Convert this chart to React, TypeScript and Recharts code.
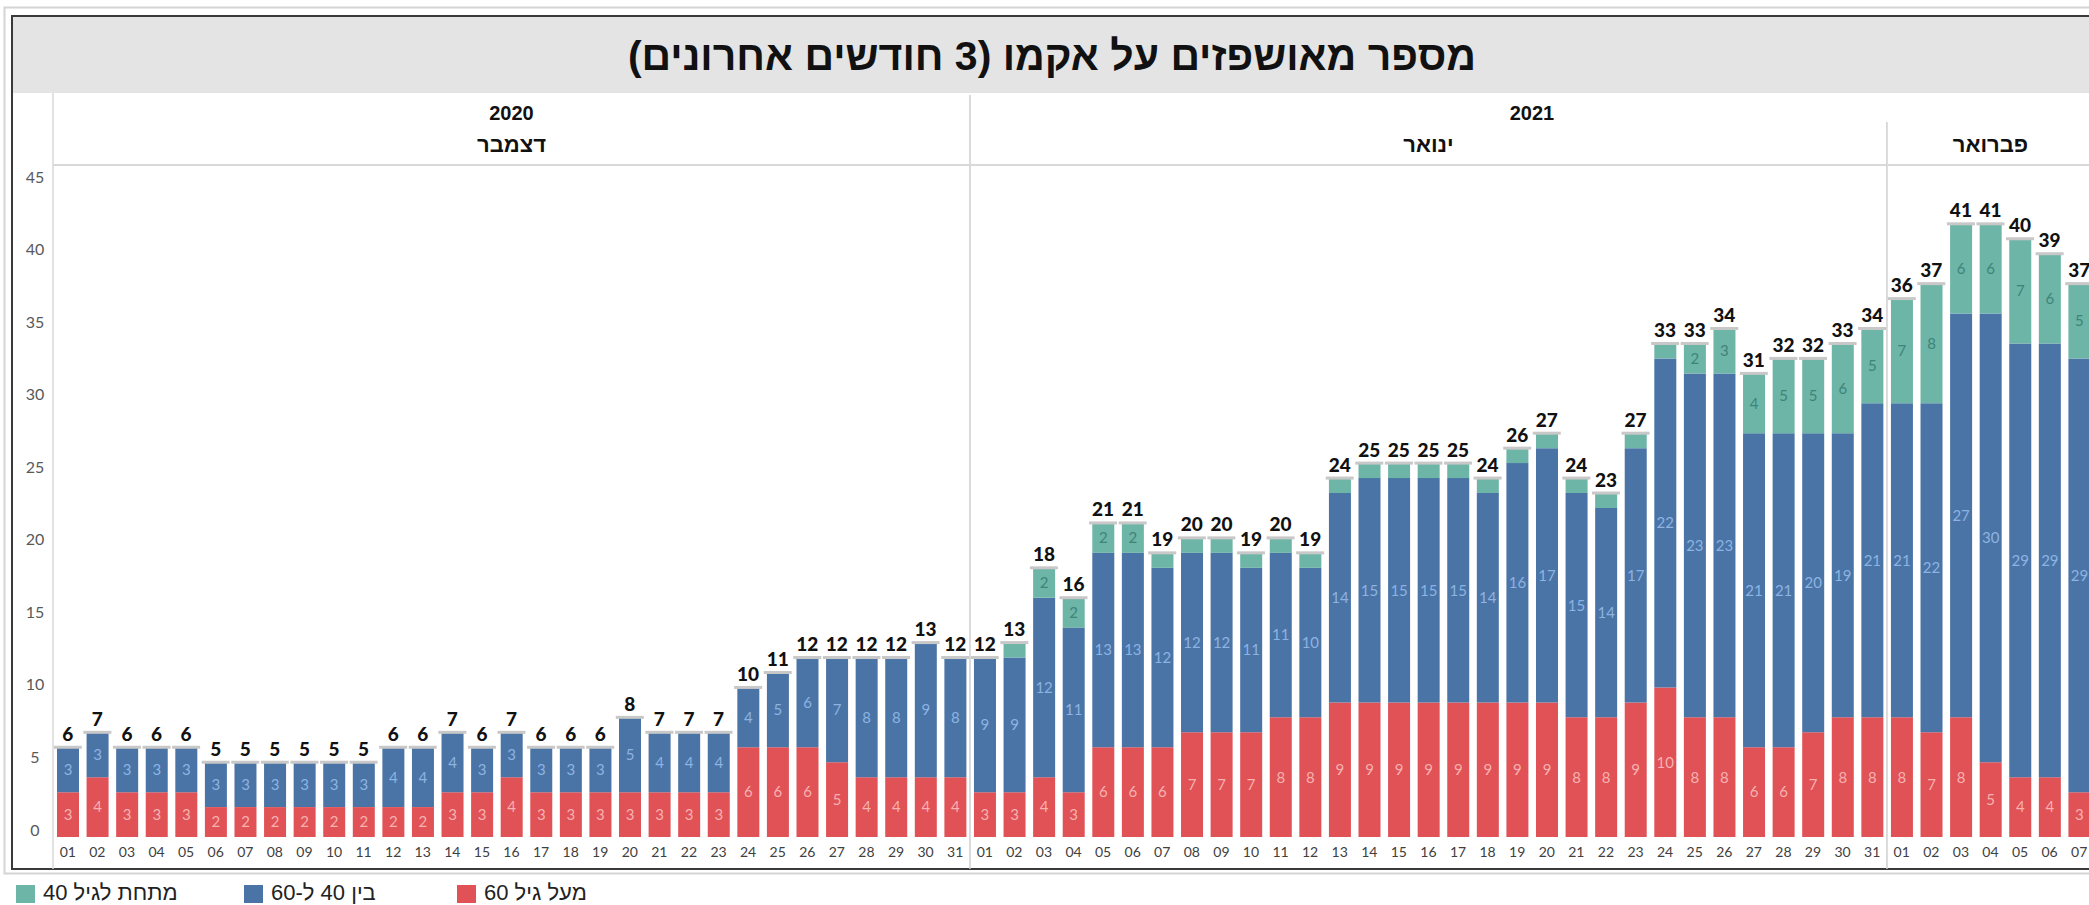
import React from 'react';
import { ComposedChart, Bar, Line, XAxis, YAxis, LabelList } from 'recharts';

// day labels per month (Dec 2020, Jan 2021, first week of Feb 2021)
const decDays = ['01', '02', '03', '04', '05', '06', '07', '08', '09', '10', '11', '12', '13', '14', '15', '16', '17', '18', '19', '20', '21', '22', '23', '24', '25', '26', '27', '28', '29', '30', '31'];
const janDays = ['01', '02', '03', '04', '05', '06', '07', '08', '09', '10', '11', '12', '13', '14', '15', '16', '17', '18', '19', '20', '21', '22', '23', '24', '25', '26', '27', '28', '29', '30', '31'];
const febDays = ['01', '02', '03', '04', '05', '06', '07'];

// מעל גיל 60
const over60 = [
  3, 4, 3, 3, 3, 2, 2, 2, 2, 2, 2, 2, 2, 3, 3, 4, 3, 3, 3, 3, 3, 3, 3, 6, 6, 6, 5, 4, 4, 4, 4,
  3, 3, 4, 3, 6, 6, 6, 7, 7, 7, 8, 8, 9, 9, 9, 9, 9, 9, 9, 9, 8, 8, 9, 10, 8, 8, 6, 6, 7, 8, 8,
  8, 7, 8, 5, 4, 4, 3,
];
// בין 40 ל-60
const age40to60 = [
  3, 3, 3, 3, 3, 3, 3, 3, 3, 3, 3, 4, 4, 4, 3, 3, 3, 3, 3, 5, 4, 4, 4, 4, 5, 6, 7, 8, 8, 9, 8,
  9, 9, 12, 11, 13, 13, 12, 12, 12, 11, 11, 10, 14, 15, 15, 15, 15, 14, 16, 17, 15, 14, 17, 22, 23, 23, 21, 21, 20, 19, 21,
  21, 22, 27, 30, 29, 29, 29,
];
// מתחת לגיל 40
const under40 = [
  0, 0, 0, 0, 0, 0, 0, 0, 0, 0, 0, 0, 0, 0, 0, 0, 0, 0, 0, 0, 0, 0, 0, 0, 0, 0, 0, 0, 0, 0, 0,
  0, 1, 2, 2, 2, 2, 1, 1, 1, 1, 1, 1, 1, 1, 1, 1, 1, 1, 1, 1, 1, 1, 1, 1, 2, 3, 4, 5, 5, 6, 5,
  7, 8, 6, 6, 7, 6, 5,
];

const yTicks = [0, 5, 10, 15, 20, 25, 30, 35, 40, 45];

const RED = '#e05256';
const BLUE = '#4a74a6';
const TEAL = '#6cb5a7';

const PLOT_LEFT = 53;
const PLOT_RIGHT = 2094;
const PLOT_TOP = 164;
const PLOT_BOTTOM = 837;

const days = [
  ...decDays.map(d => ({ key: `2020-12-${d}`, day: d })),
  ...janDays.map(d => ({ key: `2021-01-${d}`, day: d })),
  ...febDays.map(d => ({ key: `2021-02-${d}`, day: d })),
];

const data = days.map((d, i) => ({
  key: d.key,
  day: d.day,
  over60: over60[i],
  mid: age40to60[i],
  under40: under40[i],
  total: over60[i] + age40to60[i] + under40[i],
}));

const BAND = (PLOT_RIGHT - PLOT_LEFT) / data.length;
const janStart = PLOT_LEFT + decDays.length * BAND;
const febStart = PLOT_LEFT + (decDays.length + janDays.length) * BAND;

const numFont = 'Lato, "Liberation Sans", sans-serif';
const hebFont = '"Liberation Sans", "DejaVu Sans", sans-serif';

function TotalLabel(props: any) {
  const { x, y, value } = props;
  if (x == null || y == null) return null;
  return (
    <g>
      <rect x={x - 14} y={y - 1.5} width={28} height={3} fill="#c8c8c8" />
      <text x={x} y={y - 14} textAnchor="middle" dominantBaseline="central"
        fontFamily={numFont} fontWeight={900} fontSize={19} fill="#111">
        {value}
      </text>
    </g>
  );
}

function DayTick(props: any) {
  const { x, y, payload } = props;
  const d = data.find(r => r.key === payload.value);
  return (
    <text x={x} y={y + 6} textAnchor="middle" dominantBaseline="central"
      fontFamily={numFont} fontSize={14} fill="#404040">
      {d ? d.day : ''}
    </text>
  );
}

function ValueTick(props: any) {
  const { y, payload } = props;
  const v = payload.value as number;
  const dy = -8 + v * (20 / 45);
  return (
    <text x={35} y={y + dy} textAnchor="middle" dominantBaseline="central"
      fontFamily={numFont} fontSize={16} fill="#595959">
      {v}
    </text>
  );
}

function HText({ x, y, size, weight, children }: any) {
  return (
    <div dir="rtl" style={{
      position: 'absolute', left: x, top: y, transform: 'translate(-50%, -50%)',
      whiteSpace: 'nowrap', fontFamily: hebFont, fontSize: size, fontWeight: weight,
      color: '#111', lineHeight: 1,
    }}>
      {children}
    </div>
  );
}

function LegendItem({ x, color, label }: any) {
  return (
    <>
      <div style={{ position: 'absolute', left: x, top: 885, width: 19, height: 18, background: color }} />
      <div dir="rtl" style={{
        position: 'absolute', left: x + 27, top: 893, transform: 'translateY(-50%)',
        whiteSpace: 'nowrap', fontFamily: hebFont, fontSize: 22, color: '#222', lineHeight: 1,
      }}>
        {label}
      </div>
    </>
  );
}

export default function App() {
  return (
    <div style={{ position: 'absolute', left: 0, top: 0, width: 2089, height: 905, overflow: 'hidden', background: '#fff' }}>
      <svg width={2089} height={905} style={{ position: 'absolute', left: 0, top: 0 }}>
        <rect x={4.5} y={7.5} width={2100} height={866} fill="none" stroke="#d4d4d4" strokeWidth={2} />
        <rect x={12} y={16} width={2100} height={853} fill="#fff" stroke="#3a3a3a" strokeWidth={2} />
        <rect x={13} y={17} width={2100} height={76} fill="#e4e4e4" />
        <line x1={PLOT_LEFT} y1={93} x2={PLOT_LEFT} y2={869} stroke="#d9d9d9" strokeWidth={1.5} />
        <line x1={janStart} y1={95} x2={janStart} y2={869} stroke="#cfcfcf" strokeWidth={1.5} />
        <line x1={febStart} y1={122} x2={febStart} y2={869} stroke="#cfcfcf" strokeWidth={1.5} />
        <line x1={PLOT_LEFT} y1={165} x2={2100} y2={165} stroke="#d9d9d9" strokeWidth={2} />
      </svg>

      <div style={{ position: 'absolute', left: 0, top: 0 }}>
        <ComposedChart
          width={PLOT_RIGHT}
          height={905}
          data={data}
          barSize={22}
          margin={{ top: PLOT_TOP, right: 0, bottom: 905 - PLOT_BOTTOM - 30, left: PLOT_LEFT - 40 }}
        >
          <XAxis dataKey="key" interval={0} axisLine={false} tickLine={false} height={30} tick={<DayTick />} />
          <YAxis domain={[0, 45]} ticks={yTicks} width={40} axisLine={false} tickLine={false} tick={<ValueTick />} />
          <Bar dataKey="over60" stackId="a" fill={RED} isAnimationActive={false}>
            <LabelList dataKey="over60" position="center" fill="#f6b1b1" fontSize={15} fontFamily={numFont}
              formatter={(v: any) => (v > 0 ? v : '')} />
          </Bar>
          <Bar dataKey="mid" stackId="a" fill={BLUE} isAnimationActive={false}>
            <LabelList dataKey="mid" position="center" fill="#8cb3e2" fontSize={15} fontFamily={numFont}
              formatter={(v: any) => (v > 0 ? v : '')} />
          </Bar>
          <Bar dataKey="under40" stackId="a" fill={TEAL} isAnimationActive={false}>
            <LabelList dataKey="under40" position="center" fill="#3f8478" fontSize={15} fontFamily={numFont}
              formatter={(v: any) => (v >= 2 ? v : '')} />
          </Bar>
          <Line dataKey="total" stroke="none" dot={false} activeDot={false} isAnimationActive={false}>
            <LabelList dataKey="total" content={<TotalLabel />} />
          </Line>
        </ComposedChart>
      </div>

      <HText x={1052} y={56} size={41} weight={700}>מספר מאושפזים על אקמו (3 חודשים אחרונים)</HText>
      <HText x={(PLOT_LEFT + janStart) / 2} y={113} size={20} weight={700}>2020</HText>
      <HText x={(janStart + PLOT_RIGHT) / 2} y={113} size={20} weight={700}>2021</HText>
      <HText x={(PLOT_LEFT + janStart) / 2} y={145} size={22} weight={700}>דצמבר</HText>
      <HText x={(janStart + febStart) / 2} y={145} size={22} weight={700}>ינואר</HText>
      <HText x={(febStart + PLOT_RIGHT) / 2} y={145} size={22} weight={700}>פברואר</HText>

      <LegendItem x={16} color={TEAL} label="מתחת לגיל 40" />
      <LegendItem x={244} color={BLUE} label="בין 40 ל-60" />
      <LegendItem x={457} color={RED} label="מעל גיל 60" />
    </div>
  );
}
